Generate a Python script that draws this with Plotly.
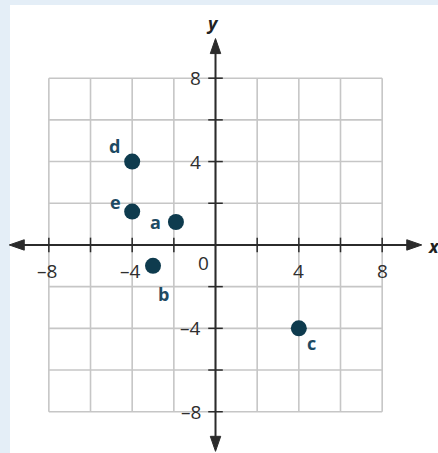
import plotly.graph_objects as go

# points
point_names = ["a", "b", "c", "d", "e"]
point_x = [-1.9, -3, 4, -4, -4]
point_y = [1.1, -1, -4, 4, 1.6]

grid_values = [-8, -6, -4, -2, 0, 2, 4, 6, 8]
tick_values = [-8, -4, 4, 8]
tick_labels = ["\u20138", "\u20134", "4", "8"]

# pixel offsets of the letter labels from their dots
label_shift = {"a": (-20, 0), "b": (10, -28), "c": (13, -15), "d": (-18, 16), "e": (-17, 10)}

AXIS = "#2b2b2b"
GRID = "#c6c6c6"
DOT = "#0e3b4e"
LABEL = "#1d4a63"
BG = "#e4eef7"
TICK = "#2e2e2e"
FONT = "Open Sans"

fig = go.Figure()

fig.add_trace(go.Scatter(
    x=point_x, y=point_y, mode="markers",
    marker=dict(size=16, color=DOT),
    hoverinfo="skip", showlegend=False,
))

shapes = [
    # white panel
    dict(type="rect", xref="paper", yref="paper", x0=10 / 438, x1=1, y0=0, y1=448 / 453,
         fillcolor="white", line=dict(width=0), layer="below"),
]

# grid only inside -8..8
for g in grid_values:
    shapes.append(dict(type="line", x0=g, x1=g, y0=-8, y1=8, line=dict(color=GRID, width=1.6), layer="below"))
    shapes.append(dict(type="line", x0=-8, x1=8, y0=g, y1=g, line=dict(color=GRID, width=1.6), layer="below"))

# axes
tip = 9.9
head, half = 0.72, 0.25
shapes.append(dict(type="line", x0=-tip + 0.3, x1=tip - 0.3, y0=0, y1=0, line=dict(color=AXIS, width=2)))
shapes.append(dict(type="line", x0=0, x1=0, y0=-tip + 0.3, y1=tip - 0.3, line=dict(color=AXIS, width=2)))
for s in (1, -1):
    shapes.append(dict(type="path", path=f"M {s*tip},0 L {s*(tip-head)},{half} L {s*(tip-head)},{-half} Z",
                       fillcolor=AXIS, line=dict(color=AXIS, width=1)))
    shapes.append(dict(type="path", path=f"M 0,{s*tip} L {half},{s*(tip-head)} L {-half},{s*(tip-head)} Z",
                       fillcolor=AXIS, line=dict(color=AXIS, width=1)))

# tick marks on the axes
for g in grid_values:
    if g == 0:
        continue
    shapes.append(dict(type="line", x0=g, x1=g, y0=-0.35, y1=0.35, line=dict(color=AXIS, width=1.5)))
    shapes.append(dict(type="line", x0=-0.35, x1=0.35, y0=g, y1=g, line=dict(color=AXIS, width=1.5)))

annotations = []
for v, t in zip(tick_values, tick_labels):
    annotations.append(dict(x=v, y=0, text=t, showarrow=False, yshift=-26, xshift=-2 if v < 0 else 0,
                            font=dict(family=FONT, size=19, color=TICK)))
    annotations.append(dict(x=0, y=v, text=t, showarrow=False, xanchor="right", xshift=-13,
                            font=dict(family=FONT, size=19, color=TICK)))
annotations.append(dict(x=0, y=0, text="0", showarrow=False, xshift=-12, yshift=-18,
                        font=dict(family=FONT, size=19, color=TICK)))
annotations.append(dict(x=tip, y=0, text="<b><i>x</i></b>", showarrow=False, xanchor="left", xshift=4, yshift=-1,
                        font=dict(family=FONT, size=18, color="#222222")))
annotations.append(dict(x=0, y=tip, text="<b><i>y</i></b>", showarrow=False, yanchor="bottom", xshift=-3, yshift=2,
                        font=dict(family=FONT, size=18, color="#222222")))

for n, px, py in zip(point_names, point_x, point_y):
    dx, dy = label_shift[n]
    annotations.append(dict(x=px, y=py, text=f"<b>{n}</b>", showarrow=False, xshift=dx, yshift=dy,
                            font=dict(family=FONT, size=18, color=LABEL)))

fig.update_layout(
    width=438, height=453,
    margin=dict(l=0, r=0, t=0, b=0),
    paper_bgcolor=BG, plot_bgcolor=BG,
    xaxis=dict(range=[-10.345, 10.68], visible=False, fixedrange=True),
    yaxis=dict(range=[-9.98, 11.75], visible=False, fixedrange=True),
    shapes=shapes, annotations=annotations,
    showlegend=False,
)

# the page body has a default 8px margin; drop it so the figure sits at the window corner
fig.write_html("out.html", config={"displayModeBar": False},
               post_script="document.body.style.margin='0';")
